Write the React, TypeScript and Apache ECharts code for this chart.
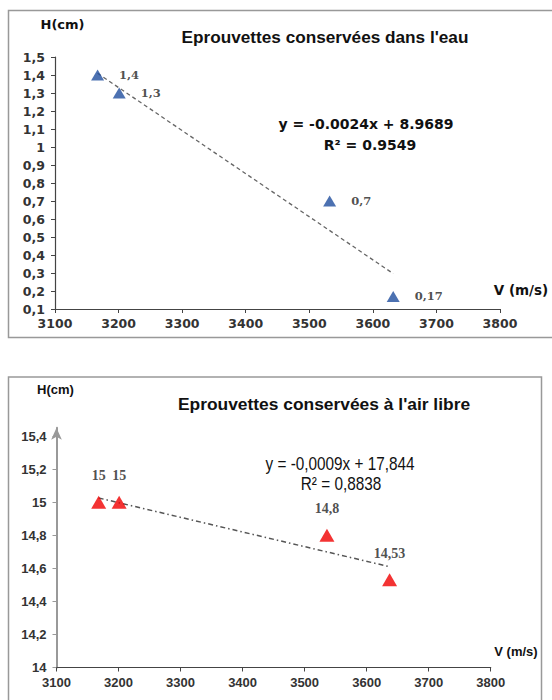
import React, { useEffect, useRef } from "react";
import * as echarts from "echarts";

// ---- data ----
const vWater = [3167, 3201, 3532, 3632];
const hWater = [1.4, 1.3, 0.7, 0.17];
const vAir = [3168, 3201, 3536, 3637];
const hAir = [15, 15, 14.8, 14.53];
const xTicks = [3100, 3200, 3300, 3400, 3500, 3600, 3700, 3800];
const yTicksWater = [0.1, 0.2, 0.3, 0.4, 0.5, 0.6, 0.7, 0.8, 0.9, 1, 1.1, 1.2, 1.3, 1.4, 1.5];
const yTicksAir = [14, 14.2, 14.4, 14.6, 14.8, 15, 15.2, 15.4];

const titleWater = "Eprouvettes conservées dans l'eau";
const titleAir = "Eprouvettes conservées à l'air libre";
const eqWater = ["y = -0.0024x + 8.9689", "R² = 0.9549"];
const eqAir = ["y = -0,0009x + 17,844", "R² = 0,8838"];

function fit(xs: number[], ys: number[]) {
  const n = xs.length;
  const mx = xs.reduce((a, b) => a + b, 0) / n;
  const my = ys.reduce((a, b) => a + b, 0) / n;
  let sxy = 0, sxx = 0;
  for (let i = 0; i < n; i++) {
    sxy += (xs[i] - mx) * (ys[i] - my);
    sxx += (xs[i] - mx) * (xs[i] - mx);
  }
  const b = sxy / sxx;
  const a = my - b * mx;
  const x0 = Math.min(...xs), x1 = Math.max(...xs);
  return [[x0, a + b * x0], [x1, a + b * x1]];
}

const comma = (v: number) => String(v).replace(".", ",");

export default function App() {
  const ref = useRef<HTMLDivElement>(null);
  useEffect(() => {
    if (!ref.current) return;
    const chart = echarts.init(ref.current, undefined, { renderer: "svg" });
    const sansV = "'DejaVu Sans', Verdana, sans-serif";
    const sansA = "'Liberation Sans', Arial, sans-serif";
    const txt = (x: number, y: number, text: string, size: number, family: string, weight: string = "bold", scaleX: number = 1) => ({
      type: "text",
      x,
      y,
      scaleX,
      z: 10,
      style: { text, align: "center", verticalAlign: "middle", fontSize: size, fontFamily: family, fontWeight: weight, fill: "#111" },
    });
    chart.setOption({
      animation: false,
      backgroundColor: "#fff",
      grid: [
        { left: 55, right: 52, top: 57, bottom: 391, outerBoundsMode: "none" },
        { left: 56.5, right: 61.3, top: 427.75, bottom: 32.5, outerBoundsMode: "none" },
      ],
      xAxis: [
        {
          gridIndex: 0, type: "value", min: 3100, max: 3800, interval: 100,
          splitLine: { show: false },
          axisLine: { lineStyle: { color: "#444", width: 1.2 } },
          axisTick: { length: 4, lineStyle: { color: "#444" }, customValues: xTicks },
          axisLabel: { customValues: xTicks, margin: 8, fontSize: 12.5, fontWeight: "bold", fontFamily: sansV, color: "#333", formatter: (v: number) => String(v) },
        },
        {
          gridIndex: 1, type: "value", min: 3100, max: 3800, interval: 100,
          splitLine: { show: false },
          axisLine: { lineStyle: { color: "#444", width: 1.2 } },
          axisTick: { length: 4, lineStyle: { color: "#444" }, customValues: xTicks },
          axisLabel: { customValues: xTicks, margin: 8, fontSize: 13, fontWeight: "bold", fontFamily: sansA, color: "#333", formatter: (v: number) => String(v) },
        },
      ],
      yAxis: [
        {
          gridIndex: 0, type: "value", min: 0.1, max: 1.5, interval: 0.1,
          splitLine: { show: false },
          axisLine: { show: true, lineStyle: { color: "#444", width: 1.2 } },
          axisTick: { show: true, length: 4, lineStyle: { color: "#444" }, customValues: yTicksWater },
          axisLabel: { customValues: yTicksWater, margin: 10, fontSize: 12.5, fontWeight: "bold", fontFamily: sansV, color: "#333", formatter: (v: number) => comma(v) },
        },
        {
          gridIndex: 1, type: "value", min: 14, max: 15.45,
          splitLine: { show: false },
          axisLine: { show: true, symbol: ["none", "arrow"], symbolSize: [8, 12], lineStyle: { color: "#999", width: 2 } },
          axisTick: { show: true, length: 4, lineStyle: { color: "#999" }, customValues: yTicksAir },
          axisLabel: { customValues: yTicksAir, margin: 10, fontSize: 13, fontWeight: "bold", fontFamily: sansA, color: "#333", formatter: (v: number) => comma(v) },
        },
      ],
      series: [
        {
          type: "line", xAxisIndex: 0, yAxisIndex: 0, data: fit(vWater, hWater), showSymbol: false, silent: true,
          lineStyle: { color: "#666", width: 1.3, type: [4, 3] }, z: 1,
        },
        {
          type: "scatter", xAxisIndex: 0, yAxisIndex: 0,
          data: vWater.map((v, i) => [v, hWater[i]]),
          symbol: "triangle", symbolSize: [13, 11],
          itemStyle: { color: "#1f4e9e" },
          label: {
            show: true, position: "right", distance: 15,
            formatter: (p: any) => comma(p.value[1]),
            fontFamily: "'DejaVu Serif', serif", fontWeight: "bold", fontSize: 11.5, color: "#222",
          },
          z: 3,
        },
        {
          type: "line", xAxisIndex: 1, yAxisIndex: 1, data: fit(vAir, hAir), showSymbol: false, silent: true,
          lineStyle: { color: "#555", width: 1.5, type: [5, 3, 1.5, 3] }, z: 1,
        },
        {
          type: "scatter", xAxisIndex: 1, yAxisIndex: 1,
          data: vAir.map((v, i) => [v, hAir[i]]),
          symbol: "triangle", symbolSize: [15, 13],
          itemStyle: { color: "#f00000" },
          label: {
            show: true, position: "top", distance: 13,
            formatter: (p: any) => comma(p.value[1]),
            fontFamily: "'Liberation Serif', 'Times New Roman', serif", fontWeight: "bold", fontSize: 14, color: "#222",
          },
          z: 3,
        },
      ],
      graphic: [
        { type: "rect", shape: { x: 8.5, y: 10.5, width: 560, height: 327 }, style: { fill: "none", stroke: "#999", lineWidth: 1.5 } },
        { type: "rect", shape: { x: 8.5, y: 377, width: 533, height: 340 }, style: { fill: "none", stroke: "#999", lineWidth: 1.5 } },
        txt(62.5, 24, "H(cm)", 13, sansV),
        txt(325, 37, titleWater, 17.2, sansA),
        txt(366, 124, eqWater[0], 14, sansV),
        txt(370, 145, eqWater[1], 14, sansV),
        txt(521, 290, "V (m/s)", 13.5, sansV),
        txt(55.5, 389, "H(cm)", 13, sansA),
        txt(324, 404, titleAir, 17.4, sansA),
        txt(340, 464, eqAir[0], 17.5, sansA, "normal", 0.875),
        txt(341, 484, eqAir[1], 17.5, sansA, "normal", 0.875),
        txt(516, 651, "V (m/s)", 13, sansA),
      ],
    });
    return () => chart.dispose();
  }, []);
  return <div ref={ref} style={{ position: "fixed", left: 0, top: 0, width: 552, height: 700 }} />;
}
